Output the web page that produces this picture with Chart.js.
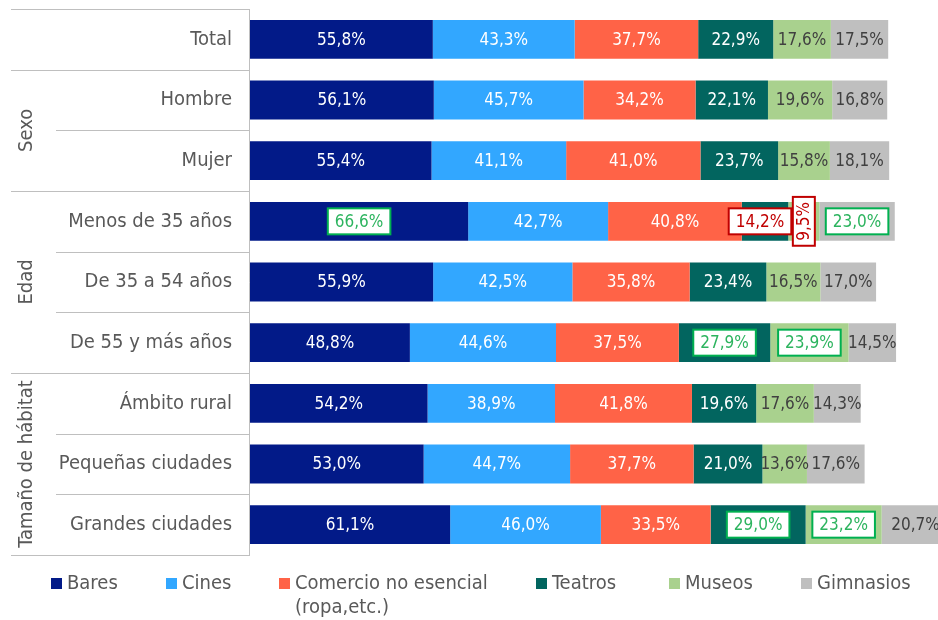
<html lang="es">
<head>
    <meta charset="utf-8">
    <title>Actividades por perfil</title>
    <style>
        body { margin: 0; background: #fff; }
        canvas { display: block; }
    </style>
</head>
<body>
<canvas id="myChart" width="938" height="620"></canvas>
<script src="https://cdn.jsdelivr.net/npm/chart.js"></script>
<script>
// categories (rows, top to bottom)
var categories = ['Total', 'Hombre', 'Mujer', 'Menos de 35 años', 'De 35 a 54 años',
    'De 55 y más años', 'Ámbito rural', 'Pequeñas ciudades', 'Grandes ciudades'];

// group labels on the left (first/last row of each group)
var groupNames = ['', 'Sexo', 'Edad', 'Tamaño de hábitat'];
var groupFirst = [0, 1, 3, 6];
var groupLast = [0, 2, 5, 8];

// series
var seriesNames = ['Bares', 'Cines', ['Comercio no esencial', '(ropa,etc.)'], 'Teatros', 'Museos', 'Gimnasios'];
var bares = [55.8, 56.1, 55.4, 66.6, 55.9, 48.8, 54.2, 53.0, 61.1];
var cines = [43.3, 45.7, 41.1, 42.7, 42.5, 44.6, 38.9, 44.7, 46.0];
var comercio = [37.7, 34.2, 41.0, 40.8, 35.8, 37.5, 41.8, 37.7, 33.5];
var teatros = [22.9, 22.1, 23.7, 14.2, 23.4, 27.9, 19.6, 21.0, 29.0];
var museos = [17.6, 19.6, 15.8, 9.5, 16.5, 23.9, 17.6, 13.6, 23.2];
var gimnasios = [17.5, 16.8, 18.1, 23.0, 17.0, 14.5, 14.3, 17.6, 20.7];

// highlighted values: [row, series index, kind]
var highlights = [
    [3, 0, 'high'], [3, 3, 'low'], [3, 4, 'low'], [3, 5, 'high'],
    [5, 3, 'high'], [5, 4, 'high'],
    [8, 3, 'high'], [8, 4, 'high']
];

var colors = ['#021a88', '#32a7ff', '#ff6347', '#02655f', '#a9d18e', '#bfbfbf'];
var labelColors = ['#ffffff', '#ffffff', '#ffffff', '#ffffff', '#404040', '#404040'];
var FONT = "'DejaVu Sans Condensed', 'DejaVu Sans', sans-serif";
var TEXT = '#595959';
var LINE = '#bfbfbf';

function fmt(v) {
    return v.toFixed(1).replace('.', ',') + '%';
}

function findHighlight(row, s) {
    for (var i = 0; i < highlights.length; i++) {
        if (highlights[i][0] == row && highlights[i][1] == s) return highlights[i][2];
    }
    return null;
}

// left table: grid lines + rotated group names + y axis line + legend
var tablePlugin = {
    id: 'tablePlugin',
    afterDraw: function (chart) {
        var ctx = chart.ctx;
        var area = chart.chartArea;
        var yScale = chart.scales.y;
        var rowH = (area.bottom - area.top) / categories.length;
        ctx.save();
        ctx.strokeStyle = LINE;
        ctx.lineWidth = 1;
        // horizontal lines
        for (var i = 0; i <= categories.length; i++) {
            var y = Math.round(area.top + i * rowH) + 0.5;
            var full = (i == 0 || i == categories.length || groupFirst.indexOf(i) >= 0);
            ctx.beginPath();
            ctx.moveTo(full ? 11 : 56, y);
            ctx.lineTo(area.left, y);
            ctx.stroke();
        }
        // vertical axis line
        ctx.beginPath();
        ctx.moveTo(area.left - 0.5, Math.round(area.top) + 0.5);
        ctx.lineTo(area.left - 0.5, area.bottom);
        ctx.stroke();

        // group names
        ctx.fillStyle = TEXT;
        ctx.font = '20px ' + FONT;
        ctx.textAlign = 'center';
        ctx.textBaseline = 'middle';
        for (var g = 0; g < groupNames.length; g++) {
            if (!groupNames[g]) continue;
            var yc = (yScale.getPixelForValue(groupFirst[g]) + yScale.getPixelForValue(groupLast[g])) / 2;
            ctx.save();
            ctx.translate(27, yc);
            ctx.rotate(-Math.PI / 2);
            ctx.fillText(groupNames[g], 0, 0);
            ctx.restore();
        }

        // legend
        var legendX = [51, 166, 279, 536, 669, 801];
        ctx.textAlign = 'left';
        for (var s = 0; s < seriesNames.length; s++) {
            ctx.fillStyle = colors[s];
            ctx.fillRect(legendX[s], 578, 11, 11);
            ctx.fillStyle = TEXT;
            var lines = [].concat(seriesNames[s]);
            for (var l = 0; l < lines.length; l++) {
                ctx.fillText(lines[l], legendX[s] + 16, 584 + l * 24);
            }
        }
        ctx.restore();
    }
};

// value labels inside the bars
var labelPlugin = {
    id: 'labelPlugin',
    afterDatasetsDraw: function (chart) {
        var ctx = chart.ctx;
        ctx.save();
        ctx.font = '17px ' + FONT;
        ctx.textAlign = 'center';
        ctx.textBaseline = 'middle';
        chart.data.datasets.forEach(function (ds, s) {
            var meta = chart.getDatasetMeta(s);
            meta.data.forEach(function (bar, row) {
                var p = bar.getProps(['x', 'base', 'y'], true);
                var cx = (p.x + p.base) / 2;
                var cy = p.y;
                var txt = fmt(ds.data[row]);
                var kind = findHighlight(row, s);
                if (!kind) {
                    ctx.fillStyle = labelColors[s];
                    ctx.fillText(txt, cx, cy + 1);
                    return;
                }
                var stroke = kind == 'high' ? '#00b050' : '#c00000';
                var fill = kind == 'high' ? '#2db45f' : '#c00000';
                var w = ctx.measureText(txt).width + 14;
                var h = 26;
                var narrow = (p.x - p.base) < w;
                ctx.save();
                ctx.translate(cx, cy);
                if (narrow && kind == 'low' && s == 4) {
                    ctx.rotate(-Math.PI / 2);
                    w = ctx.measureText(txt).width + 10;
                    h = 22;
                } else if (narrow) {
                    ctx.translate(-5, 0);
                }
                ctx.fillStyle = '#ffffff';
                ctx.fillRect(-w / 2, -h / 2, w, h);
                ctx.strokeStyle = stroke;
                ctx.lineWidth = 2;
                ctx.strokeRect(-w / 2, -h / 2, w, h);
                ctx.fillStyle = fill;
                ctx.fillText(txt, 0, 1);
                ctx.restore();
            });
        });
        ctx.restore();
    }
};

var seriesData = [bares, cines, comercio, teatros, museos, gimnasios];
var datasets = seriesData.map(function (d, i) {
    return {
        label: [].concat(seriesNames[i]).join(' '),
        data: d,
        backgroundColor: colors[i],
        borderWidth: 0,
        barPercentage: 0.64,
        categoryPercentage: 1
    };
});

new Chart('myChart', {
    type: 'bar',
    data: { labels: categories, datasets: datasets },
    options: {
        indexAxis: 'y',
        responsive: false,
        animation: false,
        layout: { padding: { top: 9, bottom: 65, left: 0, right: 0 } },
        scales: {
            x: { stacked: true, min: 0, max: 210, display: false },
            y: {
                stacked: true,
                grid: { display: false, drawTicks: false },
                border: { display: false },
                ticks: { color: TEXT, font: { family: FONT, size: 20 }, padding: 18 },
                afterFit: function (scale) {
                    scale.width = 250;
                    scale.paddingTop = 0;
                    scale.paddingBottom = 0;
                }
            }
        },
        plugins: {
            legend: { display: false },
            tooltip: { enabled: false }
        }
    },
    plugins: [tablePlugin, labelPlugin]
});
</script>
</body>
</html>
